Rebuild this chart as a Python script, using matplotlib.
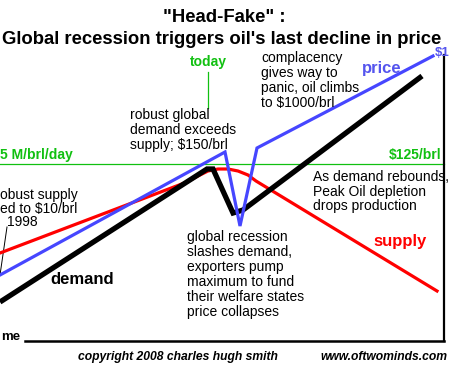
import matplotlib
matplotlib.use("Agg")
import matplotlib.pyplot as plt

plt.rcParams['font.family'] = ['Liberation Sans', 'DejaVu Sans']

# chart values (x = time units, y = level units)
supply_x = [0, 187, 198, 208, 218, 228, 238, 248, 256, 437]
supply_y = [88, 159, 165, 170, 172, 172, 170, 166, 160, 50]

price_x = [0, 225, 240, 257, 433]
price_y = [66, 189, 115, 193, 285]

demand_x = [0, 207, 213, 233, 243, 422]
demand_y = [39, 172, 172, 128, 131, 265]

capacity_level = 177      # M/brl/day line
today_x = 208
today_span = (233, 269)
note_1998 = ([7, 0], [114, 66])

W, H = 449, 375
fig = plt.figure(figsize=(W / 100, H / 100), dpi=100)
fig.patch.set_facecolor('white')


def fx(x, y):
    return x / W, 1 - y / H


# plot area (left edge is cropped off the picture)
ax = fig.add_axes([0, (H - 341) / H, 444 / W, (341 - 55) / H])
ax.set_xlim(0, 444)
ax.set_ylim(0, 286)
ax.set_facecolor('none')
ax.spines['left'].set_visible(False)
ax.spines['top'].set_visible(False)
ax.spines['right'].set_linewidth(1.6)
ax.spines['bottom'].set_linewidth(1.8)
ax.spines['bottom'].set_bounds(25, 444)
ax.set_xticks([])
ax.set_yticks([])

green = '#11c011'
ax.axhline(capacity_level, color=green, lw=0.9, clip_on=False)
ax.plot([today_x, today_x], today_span, color=green, lw=0.9, clip_on=False)
ax.plot(*note_1998, color='black', lw=0.7, clip_on=False)

ax.plot(supply_x, supply_y, color='#ff0000', lw=2.3, clip_on=False,
        solid_joinstyle='round')
ax.plot(demand_x, demand_y, color='black', lw=3.8, clip_on=False,
        solid_joinstyle='miter', solid_capstyle='butt')
ax.plot(price_x, price_y, color='#4646ff', lw=2.3, clip_on=False,
        solid_joinstyle='miter')

# titles
fig.text(*fx(224, 17), '"Head-Fake" :', ha='center', va='center',
         fontsize=13.3, fontweight='bold')
fig.text(*fx(222, 39), "Global recession triggers oil's last decline in price",
         ha='center', va='center', fontsize=13.3, fontweight='bold')

# labels
body = dict(fontsize=10, linespacing=1.08, color='black')
fig.text(*fx(208, 62), 'today', ha='center', va='center', color=green,
         fontsize=10, fontweight='bold')
fig.text(*fx(261, 80.5), 'complacency\ngives way to\npanic, oil climbs\nto $1000/brl',
         ha='left', va='center', **body)
fig.text(*fx(362, 68), 'price', ha='left', va='center', color='#5555ee',
         fontsize=12, fontweight='bold')
fig.text(*fx(435, 53), '$1', ha='left', va='center', color='#5555ee',
         fontsize=9.5, fontweight='bold')
fig.text(*fx(130, 130), 'robust global\ndemand exceeds\nsupply; $150/brl',
         ha='left', va='center', **body)
fig.text(*fx(0, 155), '5 M/brl/day', ha='left', va='center', color=green,
         fontsize=10, fontweight='bold')
fig.text(*fx(441, 155), '$125/brl', ha='right', va='center', color=green,
         fontsize=10, fontweight='bold')
fig.text(*fx(313, 191.5), 'As demand rebounds,\nPeak Oil depletion\ndrops production',
         ha='left', va='center', **body)
fig.text(*fx(373, 241), 'supply', ha='left', va='center', color='#ff0000',
         fontsize=12, fontweight='bold')
fig.text(*fx(187, 274.5),
         'global recession\nslashes demand,\nexporters pump\nmaximum to fund\n'
         'their welfare states\nprice collapses',
         ha='left', va='center', **body)
fig.text(*fx(50, 280), 'demand', ha='left', va='center', color='black',
         fontsize=12, fontweight='bold')
fig.text(*fx(0, 195), 'obust supply', ha='left', va='center', fontsize=10)
fig.text(*fx(0, 208.5), 'ed to $10/brl', ha='left', va='center', fontsize=10)
fig.text(*fx(7, 222), '1998', ha='left', va='center', fontsize=10)
fig.text(*fx(1, 337), 'me', ha='left', va='center', fontsize=9.5,
         fontweight='bold')

# footer
fig.text(*fx(78, 357), 'copyright 2008 charles hugh smith', ha='left',
         va='center', fontsize=8.7, fontweight='bold', style='italic')
fig.text(*fx(447, 357), 'www.oftwominds.com', ha='right', va='center',
         fontsize=8.7, fontweight='bold', style='italic')

fig.savefig('out.png', dpi=100, facecolor='white')
